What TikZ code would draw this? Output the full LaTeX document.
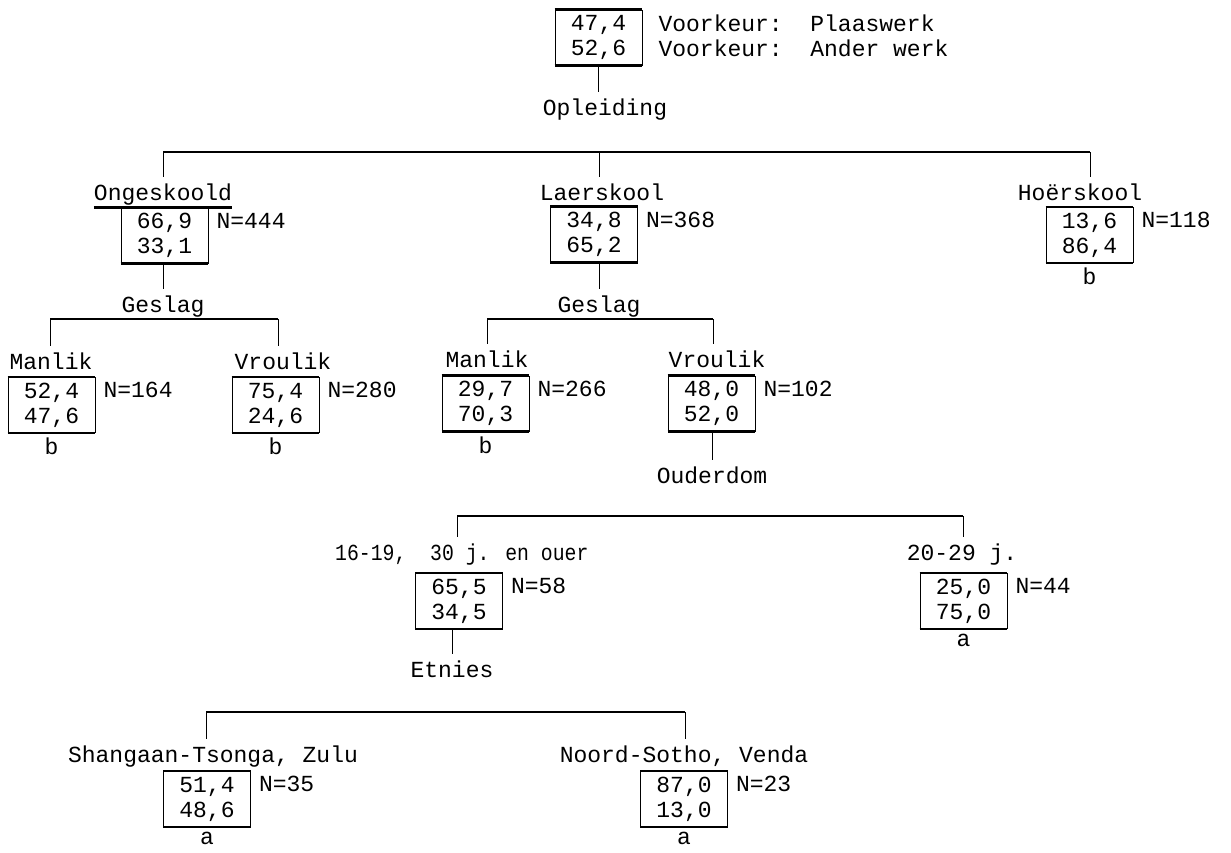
\documentclass[tikz,border=0pt]{standalone}
\usepackage{fontspec}
\newfontfamily\typewriter{Liberation Mono}
\newfontfamily\typewritertight[FakeStretch=0.86]{Liberation Mono}
\usetikzlibrary{positioning}

\begin{document}
\begin{tikzpicture}[
  x=1pt, y=-1pt,
  every node/.style={font=\typewriter\fontsize{23}{25}\selectfont, inner sep=0pt},
  factor/.style={anchor=base, inner ysep=6pt},
  cell/.style={draw, line width=0.7pt, minimum width=87pt, minimum height=55pt, align=center},
  count/.style={anchor=north west, xshift=8pt, yshift=-5pt},
  grade/.style={below=5pt of #1},
  bar/.style={line width=1.8pt},
  rule/.style={line width=2.6pt},
  branch/.style={line width=0.7pt}
]
  \useasboundingbox (0,0) rectangle (1231,852);

  % root
  \node[cell] (root) at (598.5,37.5) {47,4\\52,6};
  \node[count, xshift=8pt, align=left] (pref) at (root.north east) {Voorkeur:\ \ Plaaswerk\\Voorkeur:\ \ Ander werk};
  \node[factor] (opl) at (605,115) {Opleiding};
  \draw[branch] (root.south) -- (root.south |- opl.north);

  % Opleiding
  \coordinate (o1) at (163,152);
  \coordinate (o2) at (599,152);
  \coordinate (o3) at (1090,152);
  \draw[bar] (o1) -- (o3);
  \node[factor] (ong) at (163,200) {Ongeskoold};
  \node[factor] (lae) at (602,200) {Laerskool};
  \node[factor] (hoe) at (1080,200) {Hoërskool};
  \draw[branch] (o1) -- (o1 |- ong.north);
  \draw[branch] (o2) -- (o2 |- lae.north);
  \draw[branch] (o3) -- (o3 |- hoe.north);

  \node[cell] (ongBox) at (164.5,235.5) {66,9\\33,1};
  \node[cell] (laeBox) at (594,234.5) {34,8\\65,2};
  \node[cell] (hoeBox) at (1089.5,235) {13,6\\86,4};
  \node[count] (ongN) at (ongBox.north east) {N=444};
  \node[count] (laeN) at (laeBox.north east) {N=368};
  \node[count] (hoeN) at (hoeBox.north east) {N=118};
  \node[grade=hoeBox] (hoeG) {b};

  % Geslag (Ongeskoold)
  \node[factor] (ges1) at (163,312) {Geslag};
  \draw[branch] (ges1 |- ongBox.south) -- (ges1);
  \coordinate (g1a) at (50,319);
  \coordinate (g1b) at (278,319);
  \draw[bar] (g1a) -- (g1b);
  \node[factor] (man1) at (51,369) {Manlik};
  \node[factor] (vrou1) at (283,369) {Vroulik};
  \draw[branch] (g1a) -- (g1a |- man1.north);
  \draw[branch] (g1b) -- (g1b |- vrou1.north);
  \node[cell] (man1Box) at (51.5,405) {52,4\\47,6};
  \node[cell] (vrou1Box) at (275.5,405) {75,4\\24,6};
  \node[count] (man1N) at (man1Box.north east) {N=164};
  \node[count] (vrou1N) at (vrou1Box.north east) {N=280};
  \node[grade=man1Box] (man1G) {b};
  \node[grade=vrou1Box] (vrou1G) {b};

  % Geslag (Laerskool)
  \node[factor] (ges2) at (599,312) {Geslag};
  \draw[branch] (ges2 |- laeBox.south) -- (ges2);
  \coordinate (g2a) at (487,319);
  \coordinate (g2b) at (713,319);
  \draw[bar] (g2a) -- (g2b);
  \node[factor] (man2) at (487,367) {Manlik};
  \node[factor] (vrou2) at (717,367) {Vroulik};
  \draw[branch] (g2a) -- (g2a |- man2.north);
  \draw[branch] (g2b) -- (g2b |- vrou2.north);
  \node[cell] (man2Box) at (485.5,403.5) {29,7\\70,3};
  \node[cell] (vrou2Box) at (711.5,403.5) {48,0\\52,0};
  \node[count] (man2N) at (man2Box.north east) {N=266};
  \node[count] (vrou2N) at (vrou2Box.north east) {N=102};
  \node[grade=man2Box] (man2G) {b};

  % Ouderdom
  \node[factor] (oud) at (712,483) {Ouderdom};
  \draw[branch] (oud |- vrou2Box.south) -- (oud);
  \coordinate (a1) at (457,516);
  \coordinate (a2) at (963,516);
  \draw[bar] (a1) -- (a2);
  \node[factor, anchor=base west, font=\typewritertight\fontsize{23}{25}\selectfont] (age1) at (335,560) {16-19,\ \ 30 j. en ouer};
  \node[factor] (age2) at (962,560) {20-29 j.};
  \draw[branch] (a1) -- (a1 |- age1.north);
  \draw[branch] (a2) -- (a2 |- age2.north);
  \node[cell] (age1Box) at (459,601) {65,5\\34,5};
  \node[cell] (age2Box) at (963.5,601) {25,0\\75,0};
  \node[count] (age1N) at (age1Box.north east) {N=58};
  \node[count] (age2N) at (age2Box.north east) {N=44};
  \node[grade=age2Box] (age2G) {a};

  % Etnies
  \node[factor] (eth) at (452,677) {Etnies};
  \draw[branch] (eth |- age1Box.south) -- (eth);
  \coordinate (e1) at (206,712);
  \coordinate (e2) at (685,712);
  \draw[bar] (e1) -- (e2);
  \node[factor] (eth1) at (213,762) {Shangaan-Tsonga, Zulu};
  \node[factor] (eth2) at (684,762) {Noord-Sotho, Venda};
  \draw[branch] (e1) -- (e1 |- eth1.north);
  \draw[branch] (e2) -- (e2 |- eth2.north);
  \node[cell] (eth1Box) at (207,799) {51,4\\48,6};
  \node[cell] (eth2Box) at (684,799) {87,0\\13,0};
  \node[count] (eth1N) at (eth1Box.north east) {N=35};
  \node[count] (eth2N) at (eth2Box.north east) {N=23};
  \node[grade=eth1Box] (eth1G) {a};
  \node[grade=eth2Box] (eth2G) {a};

  % thick top and bottom rules of the cells
  \foreach \c in {root, ongBox, laeBox, hoeBox, man1Box, vrou1Box, man2Box, vrou2Box, age1Box, age2Box, eth1Box, eth2Box}
    \draw[rule] (\c.north west) -- (\c.north east) (\c.south west) -- (\c.south east);
  \draw[rule] (ong.west |- ongBox.north) -- (ong.east |- ongBox.north);
\end{tikzpicture}
\end{document}
